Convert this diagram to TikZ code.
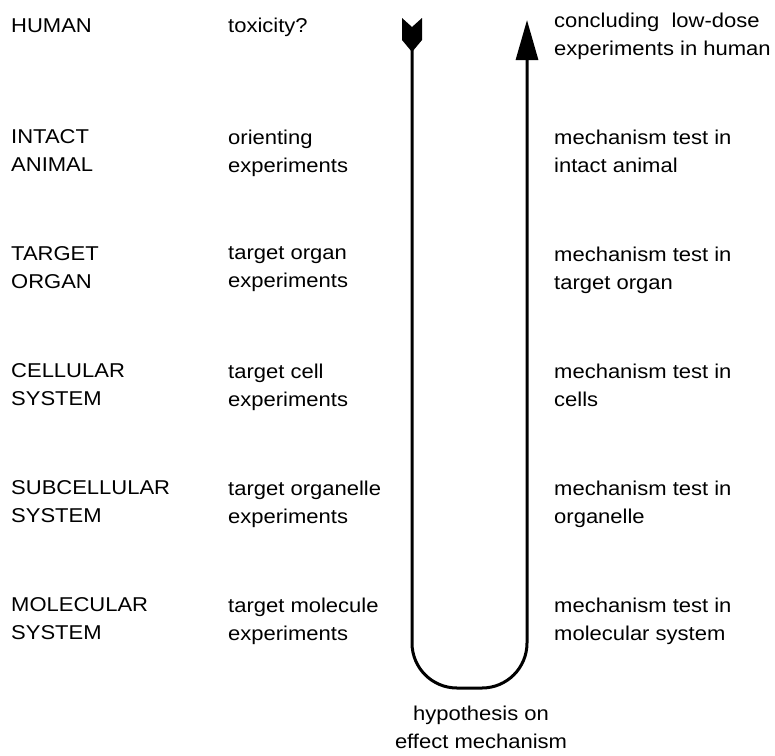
\documentclass[tikz,border=0pt]{standalone}
\usepackage{fontspec}
\setmainfont[FakeStretch=1.1]{Liberation Sans}
\usetikzlibrary{arrows.meta}
\newcommand{\lblfont}{\fontsize{20}{28}\selectfont}
\tikzset{
  lbl/.style={anchor=north west, inner sep=0pt, align=left, font=\lblfont,
    execute at begin node=\strut},
  loop line/.style={line width=3pt, rounded corners=45pt}
}
\begin{document}
\begin{tikzpicture}[x=1pt,y=-1pt]
\useasboundingbox (0,0) rectangle (775,755);
% level names
\node[lbl] (human) at (11,12.4) {HUMAN};
\node[lbl] (animal) at (11,129.4) {INTACT\\ANIMAL};
\node[lbl] (organ) at (11,246.4) {TARGET\\ORGAN};
\node[lbl] (cell) at (11,363.4) {CELLULAR\\SYSTEM};
\node[lbl] (organelle) at (11,480.4) {SUBCELLULAR\\SYSTEM};
\node[lbl] (molecule) at (11,597.4) {MOLECULAR\\SYSTEM};
% going down
\node[lbl] (tox) at (228,12.4) {toxicity?};
\node[lbl] (orient) at (228,129.4) {orienting\\experiments};
\node[lbl] (orgexp) at (228,246.4) {target organ\\experiments};
\node[lbl] (cellexp) at (228,363.4) {target cell\\experiments};
\node[lbl] (orglexp) at (228,480.4) {target organelle\\experiments};
\node[lbl] (molexp) at (228,597.4) {target molecule\\experiments};
% going up
\node[lbl] (concl) at (554,12.4) {concluding\ \ low-dose\\experiments in human};
\node[lbl] (animtest) at (554,129.4) {mechanism test in\\intact animal};
\node[lbl] (orgtest) at (554,246.4) {mechanism test in\\target organ};
\node[lbl] (celltest) at (554,363.4) {mechanism test in\\cells};
\node[lbl] (orgltest) at (554,480.4) {mechanism test in\\organelle};
\node[lbl] (moltest) at (554,597.4) {mechanism test in\\molecular system};
% bottom
\node[lbl, anchor=north, align=center] (hyp) at (481,705.4) {hypothesis on\\effect mechanism};
% the loop
\coordinate (fl) at (412,18);
\coordinate (tip) at (527,20);
\fill (fl) ++(-10,0) -- ++(10,9) -- ++(10,-9) -- ++(0,22) -- ++(-10,12) -- ++(-10,-12) -- cycle;
\draw[loop line, -{Triangle[length=40pt,width=22pt]}]
  ([yshift=-22pt]fl) -- (fl |- 0,688) -- (tip |- 0,688) -- (tip);
\end{tikzpicture}
\end{document}
